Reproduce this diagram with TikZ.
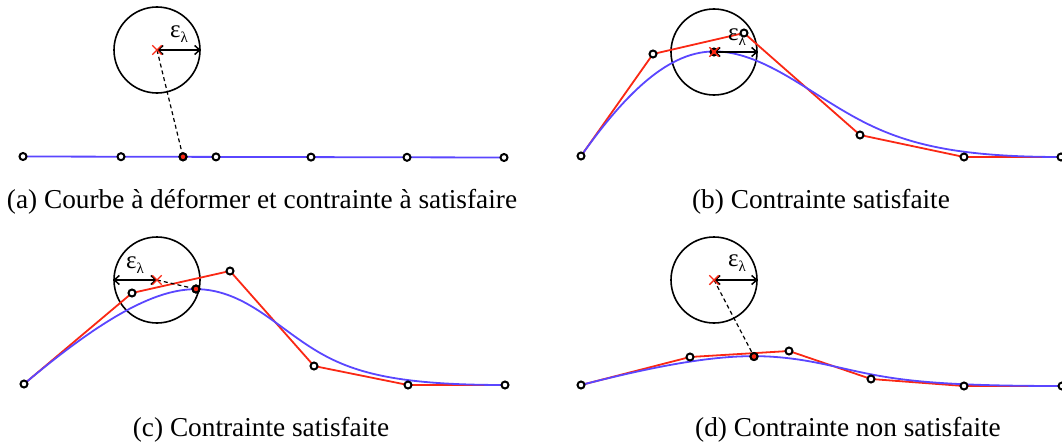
\documentclass[tikz,border=0pt]{standalone}
\usepackage{fontspec}
\setmainfont{Liberation Serif}
\usetikzlibrary{calc,arrows.meta,shapes.misc}
\definecolor{cred}{RGB}{250,40,20}
\definecolor{cblue}{RGB}{90,70,255}
\tikzset{
  poly/.style={draw=cred, line width=1.8pt, line join=round},
  curve/.style={draw=cblue, line width=1.8pt},
  ctrl/.style={circle, draw=black, fill=white, line width=2pt, minimum size=7pt, inner sep=0pt},
  footpt/.style={ctrl, fill=cred},
  zone/.style={circle, draw=black, line width=1.6pt, minimum size=86pt, inner sep=0pt},
  target/.style={cross out, draw=cred, line width=1.4pt, minimum size=8pt, inner sep=0pt},
  radiusarrow/.style={draw=black, line width=1.5pt, {Straight Barb[length=5pt,width=9pt]}-{Straight Barb[length=5pt,width=9pt]}},
  proj/.style={draw=black, line width=1.2pt, dash pattern=on 4pt off 3pt},
  caption/.style={font=\fontsize{27.3}{32}\selectfont, inner sep=0pt},
  epslabel/.style={font=\fontsize{25}{28}\selectfont, inner sep=0pt}
}
\newcommand\epsl{ε\raisebox{-5pt}{\fontsize{15}{15}\selectfont λ}}
% clamped uniform cubic B-spline through control points #10..#15
\newcommand\bspl[1]{%
  \draw[curve] (#10) .. controls (#11) and ($0.5*(#11)+0.5*(#12)$) ..
    ($0.25*(#11)+0.58333*(#12)+0.16667*(#13)$)
    .. controls ($0.66667*(#12)+0.33333*(#13)$) and ($0.33333*(#12)+0.66667*(#13)$) ..
    ($0.16667*(#12)+0.58333*(#13)+0.25*(#14)$)
    .. controls ($0.5*(#13)+0.5*(#14)$) and (#14) .. (#15);}
\newcommand\polyl[1]{\draw[poly] (#10) -- (#11) -- (#12) -- (#13) -- (#14) -- (#15);}
\newcommand\ctrlmarks[1]{\foreach \n in {0,...,5} \node[ctrl] (#1m\n) at (#1\n) {};}

\begin{document}
\begin{tikzpicture}[x=1pt,y=-1pt]
\useasboundingbox (0,0) rectangle (1062,444);

% ---------------- (a)
\foreach \n/\x/\y in {0/23/156.5,1/121/156.7,2/216/156.9,3/311/157.1,4/407/157.3,5/504/157.5}
  \coordinate (a\n) at (\x,\y);
\coordinate (ta) at (157,50);
\node[zone] (za) at (ta) {};
\bspl{a}
\ctrlmarks{a}
\node[footpt] (fa) at (183,156.8) {};
\draw[proj] (ta) -- (fa);
\node[footpt] at (fa) {};
\draw[radiusarrow] (ta) -- (za.east);
\node[epslabel] (ea) at (179,34) {\epsl};
\node[target] (xa) at (ta) {};
\node[caption] (ca) at (262,202) {(a) Courbe à déformer et contrainte à satisfaire};

% ---------------- (b)
\foreach \n/\x/\y in {0/581/156,1/653/54,2/744/33,3/860/135,4/964/157,5/1061/157}
  \coordinate (b\n) at (\x,\y);
\coordinate (tb) at (714,52);
\node[zone] (zb) at (tb) {};
\polyl{b}
\bspl{b}
\draw[radiusarrow] (tb) -- (zb.east);
\node[epslabel] (eb) at (737,37) {\epsl};
\ctrlmarks{b}
\node[footpt] (fb) at (tb) {};
\node[target] (xb) at (tb) {};
\node[caption] (cb) at (821,202) {(b) Contrainte satisfaite};

% ---------------- (c)
\foreach \n/\x/\y in {0/24/384,1/132/293,2/230/271,3/314/366,4/408/385,5/505/385}
  \coordinate (c\n) at (\x,\y);
\coordinate (tc) at (157,280);
\node[zone] (zc) at (tc) {};
\polyl{c}
\bspl{c}
\draw[radiusarrow] (tc) -- (zc.west);
\node[epslabel] (ec) at (135,265) {\epsl};
\ctrlmarks{c}
\node[footpt] (fc) at (196,289) {};
\draw[proj] (tc) -- (fc);
\node[footpt] at (fc) {};
\node[target] (xc) at (tc) {};
\node[caption] (cc) at (261,430) {(c) Contrainte satisfaite};

% ---------------- (d)
\foreach \n/\x/\y in {0/581/385,1/690/357,2/789/351,3/871/379,4/964/386,5/1062/386}
  \coordinate (d\n) at (\x,\y);
\coordinate (td) at (714,280);
\node[zone] (zd) at (td) {};
\polyl{d}
\bspl{d}
\draw[radiusarrow] (td) -- (zd.east);
\node[epslabel] (ed) at (737,263) {\epsl};
\ctrlmarks{d}
\node[footpt] (fd) at (754,356.5) {};
\draw[proj] (td) -- (fd);
\node[footpt] at (fd) {};
\node[target] (xd) at (td) {};
\node[caption] (cd) at (848,430) {(d) Contrainte non satisfaite};
\end{tikzpicture}
\end{document}
